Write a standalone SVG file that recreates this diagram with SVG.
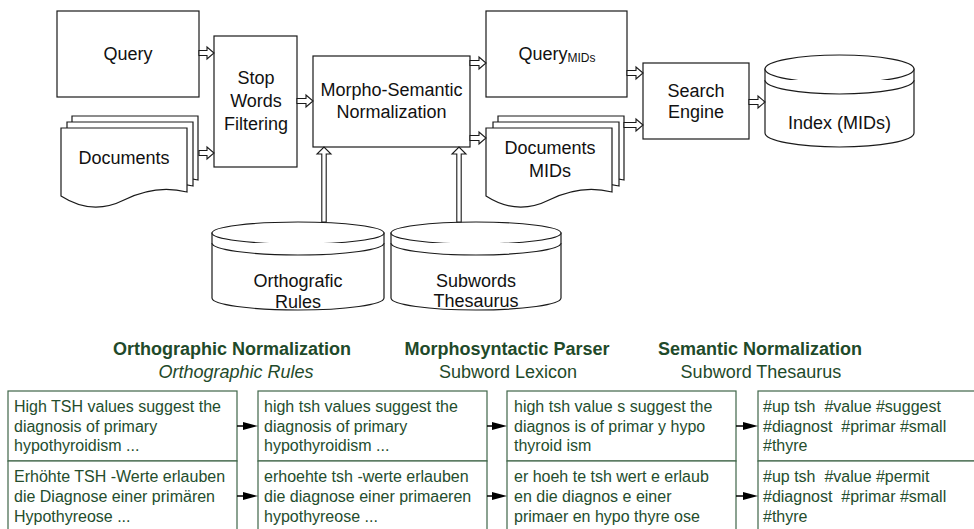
<svg xmlns="http://www.w3.org/2000/svg" width="974" height="529" viewBox="0 0 974 529">
<defs>
<style>
.box{fill:#fff;stroke:#1a1a1a;stroke-width:1.2}
.blk{fill:#fff;stroke:#1a1a1a;stroke-width:1.1}
.t{font-family:"Liberation Sans",Arial,sans-serif;font-size:18px;fill:#111;text-anchor:middle}
.sub{font-size:12px}
.hd{font-family:"Liberation Sans",Arial,sans-serif;font-size:18px;fill:#1f4a2a;text-anchor:middle}
.b{font-weight:bold}
.i{font-style:italic}
.cell{fill:#fff;stroke:#3f6548;stroke-width:1.2}
.ct{font-family:"Liberation Sans",Arial,sans-serif;font-size:16px;fill:#244d2d;white-space:pre}
.sa{stroke:#000;stroke-width:1.5;fill:none}
.sh{fill:#000}
</style>
<path id="page" d="M0,0 H126 V64 Q95,56 63,72 Q31,88 0,68 Z"/>
</defs>

<g id="query">
<rect class="box" x="57" y="11" width="142" height="86"/>
<text class="t" x="128" y="60">Query</text>
</g>

<g id="documents">
<use href="#page" class="box" x="72" y="116"/>
<use href="#page" class="box" x="67" y="122"/>
<use href="#page" class="box" x="61" y="128"/>
<text class="t" x="124" y="164">Documents</text>
</g>

<g id="stopwords">
<rect class="box" x="214" y="36" width="83" height="131"/>
<text class="t" x="256" y="84">Stop</text>
<text class="t" x="256" y="107">Words</text>
<text class="t" x="256" y="130">Filtering</text>
</g>

<g id="morpho">
<rect class="box" x="313" y="56" width="157" height="91"/>
<text class="t" x="391.5" y="96">Morpho-Semantic</text>
<text class="t" x="391.5" y="118">Normalization</text>
</g>

<g id="querymids">
<rect class="box" x="486" y="11" width="141" height="86"/>
<text class="t" x="557" y="60">Query<tspan class="sub" dy="2">MIDs</tspan></text>
</g>

<g id="documentsmids">
<use href="#page" class="box" x="498" y="116"/>
<use href="#page" class="box" x="493" y="122"/>
<use href="#page" class="box" x="486" y="128"/>
<text class="t" x="550" y="154">Documents</text>
<text class="t" x="550" y="177">MIDs</text>
</g>

<g id="search">
<rect class="box" x="643" y="63" width="106" height="76"/>
<text class="t" x="696" y="97">Search</text>
<text class="t" x="696" y="118">Engine</text>
</g>

<g id="index">
<path class="box" d="M765,69 V133 A74.5,14 0 0 0 914,133 V69 Z"/>
<ellipse class="box" cx="839.5" cy="69" rx="74.5" ry="14"/>
<path class="box" fill="none" d="M765,80 A74.5,14 0 0 0 914,80"/>
<text class="t" x="839.5" y="129">Index (MIDs)</text>
</g>

<g id="orthografic">
<path class="box" d="M212,233 V298 A86,12 0 0 0 384,298 V233 Z"/>
<ellipse class="box" cx="298" cy="233" rx="86" ry="11"/>
<path class="box" fill="none" d="M212,243 A86,12 0 0 0 384,243"/>
<text class="t" x="298" y="287">Orthografic</text>
<text class="t" x="298" y="308">Rules</text>
</g>

<g id="subwords">
<path class="box" d="M391,233 V298 A85,12 0 0 0 561,298 V233 Z"/>
<ellipse class="box" cx="476" cy="233" rx="85" ry="11"/>
<path class="box" fill="none" d="M391,243 A85,12 0 0 0 561,243"/>
<text class="t" x="476" y="287">Subwords</text>
<text class="t" x="476" y="307">Thesaurus</text>
</g>

<g id="connectors">
<polygon class="blk" points="199,50.5 207,50.5 207,47 214,53 207,59 207,55.5 199,55.5"/>
<polygon class="blk" points="199,150.5 207,150.5 207,147 214,153 207,159 207,155.5 199,155.5"/>
<polygon class="blk" points="297,98.5 306,98.5 306,95 313,101 306,107 306,103.5 297,103.5"/>
<polygon class="blk" points="470,60.5 479,60.5 479,57 486,63 479,69 479,65.5 470,65.5"/>
<polygon class="blk" points="470,135.5 479,135.5 479,132 486,138 479,144 479,140.5 470,140.5"/>
<polygon class="blk" points="627,70.5 636,70.5 636,67 643,73 636,79 636,75.5 627,75.5"/>
<polygon class="blk" points="624,122.5 636,122.5 636,119 643,125 636,131 636,127.5 624,127.5"/>
<polygon class="blk" points="749,99.5 758,99.5 758,96 765,102 758,108 758,104.5 749,104.5"/>
<polygon class="blk" points="321.8,222 321.8,154 317,154 324,147 331,154 326.2,154 326.2,222"/>
<polygon class="blk" points="456.8,222 456.8,154 452,154 459,147 466,154 461.2,154 461.2,222"/>
</g>

<g id="headers">
<text class="hd b" x="232" y="355">Orthographic Normalization</text>
<text class="hd i" x="236" y="378">Orthographic Rules</text>
<text class="hd b" x="507" y="355">Morphosyntactic Parser</text>
<text class="hd" x="508" y="378">Subword Lexicon</text>
<text class="hd b" x="760" y="355">Semantic Normalization</text>
<text class="hd" x="761" y="378">Subword Thesaurus</text>
</g>

<g id="col1">
<rect class="cell" x="8" y="391" width="229" height="70"/>
<rect class="cell" x="8" y="461" width="229" height="80"/>
<text class="ct" x="14" y="412">High TSH values suggest the</text>
<text class="ct" x="14" y="432">diagnosis of primary</text>
<text class="ct" x="14" y="451">hypothyroidism ...</text>
<text class="ct" x="14" y="482">Erhöhte TSH -Werte erlauben</text>
<text class="ct" x="14" y="502">die Diagnose einer primären</text>
<text class="ct" x="14" y="522">Hypothyreose ...</text>
</g>

<g id="col2">
<rect class="cell" x="258" y="391" width="229" height="70"/>
<rect class="cell" x="258" y="461" width="229" height="80"/>
<text class="ct" x="264" y="412">high tsh values suggest the</text>
<text class="ct" x="264" y="432">diagnosis of primary</text>
<text class="ct" x="264" y="451">hypothyroidism ...</text>
<text class="ct" x="264" y="482">erhoehte tsh -werte erlauben</text>
<text class="ct" x="264" y="502">die diagnose einer primaeren</text>
<text class="ct" x="264" y="522">hypothyreose ...</text>
</g>

<g id="col3">
<rect class="cell" x="507" y="391" width="229" height="70"/>
<rect class="cell" x="507" y="461" width="229" height="80"/>
<text class="ct" x="514" y="412">high tsh value s suggest the</text>
<text class="ct" x="514" y="432">diagnos is of primar y hypo</text>
<text class="ct" x="514" y="451">thyroid ism</text>
<text class="ct" x="514" y="482">er hoeh te tsh wert e erlaub</text>
<text class="ct" x="514" y="502">en die diagnos e einer</text>
<text class="ct" x="514" y="522">primaer en hypo thyre ose</text>
</g>

<g id="col4">
<rect class="cell" x="758" y="391" width="229" height="70"/>
<rect class="cell" x="758" y="461" width="229" height="80"/>
<text class="ct" x="763" y="412" xml:space="preserve">#up tsh  #value #suggest</text>
<text class="ct" x="763" y="432" xml:space="preserve">#diagnost  #primar #small</text>
<text class="ct" x="763" y="451">#thyre</text>
<text class="ct" x="763" y="482" xml:space="preserve">#up tsh  #value #permit</text>
<text class="ct" x="763" y="502" xml:space="preserve">#diagnost  #primar #small</text>
<text class="ct" x="763" y="522">#thyre</text>
</g>

<g id="table-connectors">
<line class="sa" x1="237" y1="426" x2="245" y2="426"/>
<polygon class="sh" points="243,422 258,426 243,430"/>
<line class="sa" x1="237" y1="496" x2="245" y2="496"/>
<polygon class="sh" points="243,492 258,496 243,500"/>
<line class="sa" x1="487" y1="426" x2="494" y2="426"/>
<polygon class="sh" points="492,422 507,426 492,430"/>
<line class="sa" x1="487" y1="496" x2="494" y2="496"/>
<polygon class="sh" points="492,492 507,496 492,500"/>
<line class="sa" x1="736" y1="426" x2="745" y2="426"/>
<polygon class="sh" points="743,422 758,426 743,430"/>
<line class="sa" x1="736" y1="496" x2="745" y2="496"/>
<polygon class="sh" points="743,492 758,496 743,500"/>
</g>
</svg>
